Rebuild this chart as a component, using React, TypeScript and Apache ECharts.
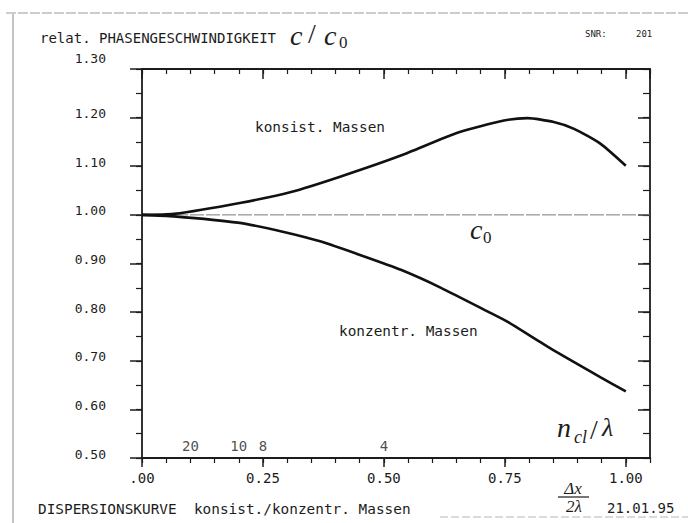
import React, { useEffect, useRef } from 'react';
import * as echarts from 'echarts';

// ---- data ----
const xMin = 0;
const xMax = 1.05;
const yMin = 0.5;
const yMax = 1.3;
const xMajorTicks = [0, 0.25, 0.5, 0.75, 1.0];
const xTickLabels = ['.00', '0.25', '0.50', '0.75', '1.00'];

const konsistX = [0, 0.066, 0.205, 0.308, 0.411, 0.535, 0.652, 0.748, 0.797, 0.851, 0.893, 0.948, 1.0];
const konsistY = [1.0, 1.002, 1.025, 1.047, 1.079, 1.122, 1.169, 1.194, 1.199, 1.191, 1.177, 1.146, 1.101];

const konzentrX = [0, 0.066, 0.198, 0.293, 0.37, 0.452, 0.535, 0.618, 0.721, 0.756, 0.845, 0.948, 1.0];
const konzentrY = [1.0, 0.997, 0.984, 0.965, 0.945, 0.917, 0.887, 0.85, 0.798, 0.78, 0.725, 0.666, 0.637];

const refX = [0, 1.05];
const refY = [1.0, 1.0];

const nLabels = ['20', '10', '8', '4'];
const nPositions = [0.1, 0.2, 0.25, 0.5];
const nLabelLevel = 0.525;

const MONO = '"DejaVu Sans Mono", monospace';
const SERIF = '"Liberation Serif", "DejaVu Serif", serif';
const INK = '#1c1c1c';

function zip(xs: number[], ys: number[]) {
  return xs.map((x, i) => [x, ys[i]]);
}

function txt(x: number, y: number, text: string, font: string, align = 'left', fill = INK) {
  return {
    type: 'text',
    x,
    y,
    silent: true,
    style: { text, font, fill, textAlign: align, textVerticalAlign: 'middle' },
  };
}

function isMajor(v: number) {
  return xMajorTicks.findIndex((t) => Math.abs(t - v) < 1e-6);
}

export default function App() {
  const ref = useRef<HTMLDivElement>(null);

  useEffect(() => {
    if (!ref.current) return;
    const chart = echarts.init(ref.current, undefined, { renderer: 'svg' });

    const line = () => ({ show: true, onZero: false, lineStyle: { color: INK, width: 1.8 } });
    const noLine = () => ({ show: false, onZero: false });
    const tick = (len: number, inside: boolean, w = 1.4) => ({
      show: true,
      inside,
      length: len,
      lineStyle: { color: INK, width: w },
    });

    const xa = (position: string, interval: number, axisLine: any, axisTick: any, axisLabel: any) => ({
      type: 'value',
      position,
      min: xMin,
      max: xMax,
      interval,
      axisLine,
      axisTick,
      axisLabel,
      splitLine: { show: false },
    });
    const ya = (position: string, interval: number, axisLine: any, axisTick: any, axisLabel: any) => ({
      type: 'value',
      position,
      min: yMin,
      max: yMax,
      interval,
      axisLine,
      axisTick,
      axisLabel,
      splitLine: { show: false },
    });

    const option: any = {
      animation: false,
      backgroundColor: '#ffffff',
      grid: { left: 142, right: 38, top: 69, bottom: 65 },
      xAxis: [
        xa('bottom', 0.25, line(), tick(9, false, 1.5), {
          show: true,
          margin: 13,
          fontFamily: MONO,
          fontSize: 14,
          color: INK,
          showMaxLabel: false,
          formatter: (v: number) => {
            const i = isMajor(v);
            return i >= 0 ? xTickLabels[i] : '';
          },
        }),
        xa('bottom', 0.05, noLine(), tick(5, false, 1.2), { show: false }),
        xa('top', 0.25, line(), tick(10, true, 1.5), { show: false }),
        xa('top', 0.05, noLine(), tick(5, true, 1.2), { show: false }),
      ],
      yAxis: [
        ya('left', 0.1, line(), tick(12, false, 1.5), {
          show: true,
          margin: 36,
          fontFamily: MONO,
          fontSize: 13,
          color: INK,
          padding: [0, 0, 8, 0],
          formatter: (v: number) => (Math.abs(v - 1.3) < 1e-6 ? '{t|1.30}' : v.toFixed(2)),
          rich: { t: { fontFamily: MONO, fontSize: 13, color: INK, padding: [0, 0, 14, 0] } },
        }),
        ya('left', 0.05, noLine(), tick(6, false, 1.2), { show: false }),
        ya('right', 0.1, line(), tick(12, true, 1.5), { show: false }),
        ya('right', 0.05, noLine(), tick(7, true, 1.2), { show: false }),
      ],
      series: [
        {
          type: 'line',
          name: 'c0',
          xAxisIndex: 0,
          yAxisIndex: 0,
          data: zip(refX, refY),
          symbol: 'none',
          lineStyle: { color: '#7a7a7a', width: 1, type: [14, 2] },
          silent: true,
        },
        {
          type: 'line',
          name: 'konsist. Massen',
          xAxisIndex: 0,
          yAxisIndex: 0,
          data: zip(konsistX, konsistY),
          symbol: 'none',
          smooth: 0.2,
          lineStyle: { color: '#111', width: 2.6 },
          silent: true,
        },
        {
          type: 'line',
          name: 'konzentr. Massen',
          xAxisIndex: 0,
          yAxisIndex: 0,
          data: zip(konzentrX, konzentrY),
          symbol: 'none',
          smooth: 0.2,
          lineStyle: { color: '#111', width: 2.6 },
          silent: true,
        },
        {
          type: 'scatter',
          name: 'n',
          xAxisIndex: 0,
          yAxisIndex: 0,
          symbolSize: 0,
          data: nPositions.map((x, i) => [x, nLabelLevel, nLabels[i]]),
          label: {
            show: true,
            position: 'inside',
            formatter: (p: any) => p.data[2],
            fontFamily: MONO,
            fontSize: 14,
            color: INK,
          },
          silent: true,
        },
      ],
      graphic: [
        { type: 'line', silent: true, shape: { x1: 13, y1: 14, x2: 13, y2: 523 }, style: { stroke: '#8a8a8a', lineWidth: 1 } },
        { type: 'line', silent: true, shape: { x1: 6, y1: 13, x2: 688, y2: 13 }, style: { stroke: '#9a9a9a', lineWidth: 1, lineDash: [10, 2] } },
        { type: 'line', silent: true, shape: { x1: 440, y1: 517, x2: 688, y2: 517 }, style: { stroke: '#b5b5b5', lineWidth: 1, lineDash: [8, 3] } },
        txt(40, 38, 'relat. PHASENGESCHWINDIGKEIT', `14px ${MONO}`),
        txt(290, 35, 'c', `italic 28px ${SERIF}`),
        txt(308, 33, '/', `28px ${SERIF}`),
        txt(324, 35, 'c', `italic 28px ${SERIF}`),
        txt(339, 42, '0', `17px ${SERIF}`),
        txt(585, 34, 'SNR:', `9px ${MONO}`),
        txt(636, 34, '201', `9px ${MONO}`),
        txt(255, 127, 'konsist. Massen', `14.4px ${MONO}`),
        txt(339, 331, 'konzentr. Massen', `14.4px ${MONO}`),
        txt(470, 229, 'c', `italic 28px ${SERIF}`),
        txt(483, 237, '0', `17px ${SERIF}`),
        txt(557, 427, 'n', `italic 28px ${SERIF}`),
        txt(574, 437, 'cl', `italic 18px ${SERIF}`),
        txt(590, 429, '/', `28px ${SERIF}`),
        txt(602, 427, 'λ', `italic 26px ${SERIF}`),
        txt(573, 488, 'Δx', `italic 17px ${SERIF}`, 'center'),
        { type: 'line', silent: true, shape: { x1: 558, y1: 497, x2: 589, y2: 497 }, style: { stroke: INK, lineWidth: 1.2 } },
        txt(574, 506, '2λ', `italic 17px ${SERIF}`, 'center'),
        txt(607, 508, '21.01.95', `14px ${MONO}`),
        txt(38, 509, 'DISPERSIONSKURVE  konsist./konzentr. Massen', `14.4px ${MONO}`),
      ],
    };

    chart.setOption(option);
    return () => chart.dispose();
  }, []);

  return (
    <div
      ref={ref}
      style={{ position: 'fixed', left: 0, top: 0, width: 688, height: 523, background: '#fff' }}
    />
  );
}
